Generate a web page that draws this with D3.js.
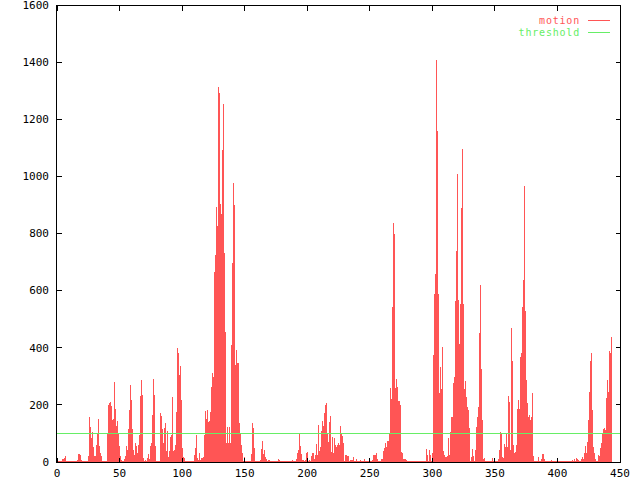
<!DOCTYPE html>
<html><head><meta charset="utf-8">
<script src="https://cdn.jsdelivr.net/npm/d3@7"></script>
<style>body{margin:0;background:#fff}svg{display:block}text{font-family:"DejaVu Sans Mono",monospace;font-size:11px}</style>
</head><body>
<script>
// motion samples, one every 0.8 units on x, starting at 0
const xStep = 0.8;
const motion = [
5,5,3,2,5,10,10,13,20,5,
2,2,2,2,2,2,5,2,2,2,
8,29,27,25,8,2,2,2,2,2,
3,20,159,122,84,106,51,20,20,60,
97,152,55,30,20,5,2,2,2,2,
101,200,206,210,195,148,152,281,187,125,
145,100,55,20,8,5,3,10,20,55,
41,117,183,268,218,117,43,26,67,55,
31,60,96,230,288,235,15,2,7,2,
13,28,10,56,68,165,291,235,56,5,
2,2,2,173,161,115,65,120,138,40,
110,19,40,89,95,229,40,42,60,174,
400,383,305,337,217,48,19,13,3,2,
5,2,2,3,2,5,2,25,48,95,
13,7,30,7,13,13,18,95,179,149,
182,141,144,176,264,310,299,666,725,894,
826,1314,1293,903,870,1092,1253,730,456,65,
124,65,124,65,410,696,976,900,340,392,
348,348,135,100,60,30,2,19,3,2,
2,2,2,2,28,138,118,48,5,2,
2,2,2,7,45,74,28,42,16,10,
3,7,7,2,2,2,2,2,2,3,
3,10,6,3,2,2,2,2,2,2,
2,2,2,2,2,7,3,3,5,9,
33,42,100,56,27,7,7,3,7,33,
36,3,7,3,21,33,30,12,25,62,
25,130,40,54,108,143,126,170,200,208,
100,71,139,161,34,86,30,85,60,54,
60,65,60,126,97,91,65,2,25,25,
21,21,2,7,7,7,19,5,5,9,
2,2,2,7,2,2,2,12,5,5,
2,2,2,5,2,7,25,25,25,30,
10,2,2,5,9,9,40,48,68,54,
75,75,100,258,219,544,838,800,258,289,
264,214,214,200,34,30,9,12,12,7,
5,5,5,2,2,2,2,2,2,2,
2,2,2,2,2,2,2,2,5,44,
25,5,42,25,5,30,375,588,657,1407,
1159,588,243,334,254,404,40,25,19,19,
21,85,25,106,159,159,278,299,564,739,
1008,567,412,553,890,1096,552,256,285,226,
194,182,118,5,19,44,21,5,42,124,
156,194,450,620,326,147,9,14,3,2,
2,2,2,2,2,13,2,2,2,2,
2,9,42,106,103,19,13,63,54,103,
51,231,211,42,468,354,60,30,36,60,
187,217,184,369,383,541,637,966,530,287,
205,159,165,147,159,243,21,5,2,2,
5,16,5,5,12,28,28,12,5,2,
2,2,2,5,7,2,2,2,2,2,
2,2,2,5,2,2,5,5,2,2,
2,2,2,2,2,7,2,9,3,13,
9,7,2,5,9,19,9,33,56,33,
71,147,246,355,383,182,54,30,9,2,
2,25,21,48,65,100,114,118,112,223,
287,246,390,380,436
];
const threshold = 100;
const xTicks = [0,50,100,150,200,250,300,350,400,450];
const yTicks = [0,200,400,600,800,1000,1200,1400,1600];
const seriesNames = ["motion","threshold"];
const seriesColors = ["#ff5555","#66ee66"];

const W = 640, H = 480;
const x = d3.scaleLinear().domain([0,450]).range([57,620]);
const y = d3.scaleLinear().domain([0,1600]).range([462,5]);
const px = v => Math.floor(v) + 0.5;

const svg = d3.select("body").append("svg").attr("width",W).attr("height",H);

// impulses
svg.append("g").attr("shape-rendering","crispEdges")
  .selectAll("rect").data(motion).join("rect")
  .attr("x",(d,i)=>Math.floor(x(i*xStep)))
  .attr("width",1)
  .attr("y",d=>y(d))
  .attr("height",d=>y(0)-y(d))
  .attr("fill",seriesColors[0]);

// threshold line
svg.append("line").attr("shape-rendering","crispEdges")
  .attr("x1",x(0)).attr("x2",x(450))
  .attr("y1",px(y(threshold))).attr("y2",px(y(threshold)))
  .attr("stroke",seriesColors[1]).attr("stroke-width",1);

// frame and ticks
const g = svg.append("g").attr("shape-rendering","crispEdges").attr("stroke","#000").attr("stroke-width",1);
const L = px(x(0))-1, R = px(x(450)), T = px(y(1600)), B = px(y(0));
g.append("rect").attr("x",L).attr("y",T).attr("width",R-L).attr("height",B-T).attr("fill","none");
xTicks.forEach(t=>{
  const xx = px(x(t));
  g.append("line").attr("x1",xx).attr("x2",xx).attr("y1",B).attr("y2",B-5);
  g.append("line").attr("x1",xx).attr("x2",xx).attr("y1",T).attr("y2",T+5);
});
yTicks.forEach(t=>{
  const yy = px(y(t));
  g.append("line").attr("x1",L).attr("x2",L+5).attr("y1",yy).attr("y2",yy);
  g.append("line").attr("x1",R).attr("x2",R-5).attr("y1",yy).attr("y2",yy);
});

// tick labels
svg.append("g").selectAll("text").data(yTicks).join("text")
  .attr("x",49).attr("y",d=>y(d)).attr("dy","0.35em")
  .attr("text-anchor","end").attr("fill","#000").text(d=>d);
svg.append("g").selectAll("text").data(xTicks).join("text")
  .attr("x",d=>x(d)).attr("y",473).attr("dy","0.35em")
  .attr("text-anchor","middle").attr("fill","#000").text(d=>d);

// legend
seriesNames.forEach((n,i)=>{
  const yy = 20.8 + i*11.8;
  svg.append("text").attr("x",580).attr("y",yy).attr("dy","0.35em")
    .style("font-size","10px").style("letter-spacing","0.8px")
    .attr("text-anchor","end").attr("fill",seriesColors[i]).text(n);
  svg.append("line").attr("x1",588).attr("x2",610).attr("y1",px(yy)).attr("y2",px(yy))
    .attr("stroke",seriesColors[i]).attr("stroke-width",1).attr("shape-rendering","crispEdges");
});
</script>
</body></html>
